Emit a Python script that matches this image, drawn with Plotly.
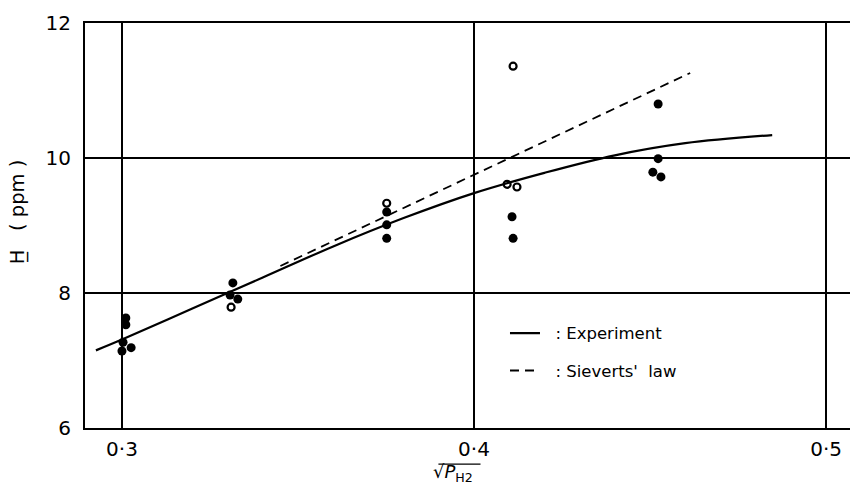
import plotly.graph_objects as go

# Hydrogen content H (ppm) against square root of hydrogen pressure
# Filled symbols
filled_x = [0.3011, 0.3011, 0.3003, 0.3000, 0.3026,
            0.3315, 0.3307, 0.3329,
            0.3752, 0.3752, 0.3752,
            0.4108, 0.4111,
            0.4523, 0.4523, 0.4508, 0.4531]
filled_y = [7.63, 7.53, 7.27, 7.14, 7.19,
            8.15, 7.97, 7.91,
            9.20, 9.01, 8.81,
            9.13, 8.81,
            10.80, 9.99, 9.79, 9.72]

# Open symbols
open_x = [0.3310, 0.3752, 0.4111, 0.4094, 0.4122]
open_y = [7.79, 9.33, 11.36, 9.61, 9.57]

# Experimental curve
exp_x = [0.2926, 0.30, 0.32, 0.34, 0.36, 0.38, 0.40, 0.42, 0.44, 0.46, 0.4847]
exp_y = [7.15, 7.31, 7.77, 8.23, 8.69, 9.11, 9.48, 9.78, 10.04, 10.22, 10.34]

# Sieverts' law (H proportional to sqrt(P))
siev_x = [0.345, 0.4614]
siev_y = [8.40, 11.26]

x_ticks = [0.3, 0.4, 0.5]
x_labels = ["0·3", "0·4", "0·5"]
y_ticks = [6, 8, 10, 12]
y_labels = ["6", "8", "10", "12"]

FONT = "DejaVu Sans, Liberation Sans, sans-serif"

fig = go.Figure()

fig.add_trace(go.Scatter(
    x=exp_x, y=exp_y, mode="lines", name="  : Experiment",
    line=dict(color="black", width=2.2, shape="spline", smoothing=1.0),
    legendgroup="a"))
fig.add_trace(go.Scatter(
    x=siev_x, y=siev_y, mode="lines", name="  : Sieverts'  law",
    line=dict(color="black", width=1.8, dash="9px,6px"),
    legendgroup="b"))
fig.add_trace(go.Scatter(
    x=filled_x, y=filled_y, mode="markers", showlegend=False,
    marker=dict(symbol="circle", size=9, color="black")))
fig.add_trace(go.Scatter(
    x=open_x, y=open_y, mode="markers", showlegend=False,
    marker=dict(symbol="circle-open", size=7, color="black",
                line=dict(width=2.2, color="black"))))

fig.update_layout(
    width=850, height=487, autosize=False,
    margin=dict(l=85, r=0, t=23, b=59),
    paper_bgcolor="white", plot_bgcolor="white",
    font=dict(family=FONT, color="black"),
    showlegend=True,
    legend=dict(x=0.549, y=0.277, xanchor="left", yanchor="top",
                bgcolor="rgba(0,0,0,0)", font=dict(size=16.5, family=FONT),
                tracegroupgap=13, itemwidth=30),
    xaxis=dict(range=[0.2895, 0.5068], tickvals=x_ticks, ticktext=x_labels,
               showgrid=True, gridcolor="black", gridwidth=1.5,
               showline=True, linecolor="black", linewidth=2, mirror=True,
               zeroline=False, ticks="", tickfont=dict(size=20),
               ticklabelstandoff=2),
    yaxis=dict(range=[6, 12], tickvals=y_ticks, ticktext=y_labels,
               showgrid=True, gridcolor="black", gridwidth=1.5,
               showline=True, linecolor="black", linewidth=2,
               zeroline=False, ticks="", tickfont=dict(size=20),
               ticklabelstandoff=8),
)

# Axis titles
fig.add_annotation(text="H̲   ( ppm )", textangle=-90, showarrow=False,
                   xref="paper", yref="paper", x=-0.089, y=0.535,
                   xanchor="center", yanchor="middle",
                   font=dict(size=19.5, family=FONT))
fig.add_annotation(text="√<i>P</i><sub>H2</sub>", showarrow=False,
                   xref="paper", yref="paper", x=0.481, y=-0.111,
                   xanchor="center", yanchor="middle",
                   font=dict(size=18, family=FONT))
# vinculum of the radical sign
fig.add_shape(type="line", xref="paper", yref="paper",
              x0=0.462, x1=0.517, y0=-0.089, y1=-0.089,
              line=dict(color="black", width=1.3))

fig.write_html("out.html")
